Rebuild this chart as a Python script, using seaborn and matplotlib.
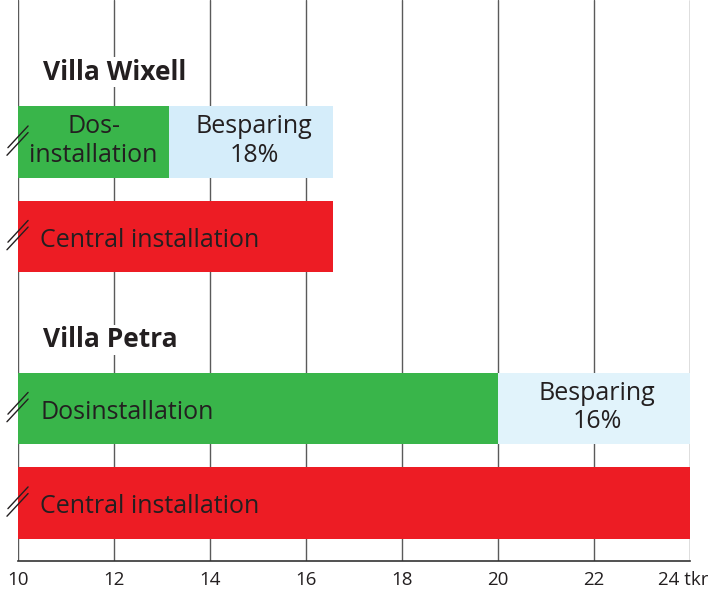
import pandas as pd
import matplotlib.pyplot as plt
import seaborn as sns
from matplotlib.transforms import ScaledTranslation

# Cost per house and installation type (tkr)
houses = ["Villa Wixell", "Villa Wixell", "Villa Petra", "Villa Petra"]
installations = ["Dos", "Central", "Dos", "Central"]
costs = [13.15, 16.56, 20.0, 24.0]
row_labels = ["Dos-\ninstallation", "Central installation", "Dosinstallation", "Central installation"]
savings_labels = ["Besparing\n18%", "Besparing\n16%"]
tick_values = [10, 12, 14, 16, 18, 20, 22, 24]
tick_labels = ["10", "12", "14", "16", "18", "20", "22", "24 tkr"]

# layout: vertical position of each bar row
row_pos = [0, 1, 2.82, 3.82]

df = pd.DataFrame({"house": houses, "inst": installations, "cost": costs, "pos": row_pos})
# the central installation cost is the reference each row is compared with
df["reference"] = df.groupby("house")["cost"].transform("max")

sns.set_style("white")
plt.rcParams["font.family"] = ["Open Sans", "DejaVu Sans"]
text_col = "#231f20"

fig = plt.figure(figsize=(7.08, 5.91), dpi=100)
ax = fig.add_axes([18 / 708, 1 - 561 / 591, 672 / 708, 561 / 591])

# light blue = reference cost (saving part), drawn first
sns.barplot(data=df, x="reference", y="pos", hue="house", orient="h", native_scale=True,
            palette={"Villa Wixell": "#d5edfa", "Villa Petra": "#e1f3fb"}, saturation=1,
            dodge=False, width=0.755, errorbar=None, linewidth=0, legend=False, ax=ax, zorder=2)
# actual cost of each installation
sns.barplot(data=df, x="cost", y="pos", hue="inst", orient="h", native_scale=True,
            palette={"Dos": "#39b54a", "Central": "#ed1c24"}, saturation=1,
            dodge=False, width=0.755, errorbar=None, linewidth=0, legend=False, ax=ax, zorder=3)

ax.set_xlim(10, 24)
ax.set_ylim(4.434, -1.503)
ax.set_xlabel("")
ax.set_ylabel("")
ax.set_yticks([])
ax.set_xticks(tick_values)
ax.set_xticklabels(tick_labels, fontsize=13.5, color=text_col)
ax.set_xticks([11, 13, 15, 17, 19, 21, 23], minor=True)
ax.tick_params(axis="x", which="major", length=0, pad=7)
ax.tick_params(axis="x", which="minor", length=10, width=1, direction="inout", color="#333333")
ax.grid(axis="x", which="major", color="#5a5a5a", linewidth=1.0, zorder=1)
ax.set_axisbelow(True)
for s in ["top", "right", "left"]:
    ax.spines[s].set_visible(False)
ax.spines["bottom"].set_color("#333333")
ax.spines["bottom"].set_linewidth(1.2)

last = ax.get_xticklabels()[-1]
last.set_transform(last.get_transform() + ScaledTranslation(-0.07, 0, fig.dpi_scale_trans))

# texts inside the bars
for i, row in df.iterrows():
    if row["inst"] == "Dos" and row["house"] == "Villa Wixell":
        ax.text(row["cost"] / 2 + 5, row["pos"] - 0.01, row_labels[i], ha="center", va="center",
                fontsize=18, color=text_col, linespacing=1.18, zorder=5)
    else:
        ax.text(10.46, row["pos"] + 0.04, row_labels[i], ha="left", va="center",
                fontsize=18, color=text_col, zorder=5)
    # break marks on the left edge
    ax.plot([9.79, 10.21], [row["pos"] + 0.06, row["pos"] - 0.17], color=text_col, lw=1, clip_on=False, zorder=6)
    ax.plot([9.77, 10.21], [row["pos"] + 0.14, row["pos"] - 0.10], color=text_col, lw=1, clip_on=False, zorder=6)

dos = df[df["inst"] == "Dos"].reset_index(drop=True)
for i, row in dos.iterrows():
    ax.text((row["cost"] + row["reference"]) / 2 + 0.06, row["pos"] - 0.01, savings_labels[i],
            ha="center", va="center", fontsize=18, color=text_col, linespacing=1.18, zorder=5)

# house headings
for name, y in [("Villa Wixell", -0.741), ("Villa Petra", 2.095)]:
    ax.text(10.52, y, name, ha="left", va="center", fontsize=19, fontweight="bold", color=text_col,
            zorder=5, bbox=dict(facecolor="white", edgecolor="none", pad=1))

plt.savefig("out.png", dpi=100)
